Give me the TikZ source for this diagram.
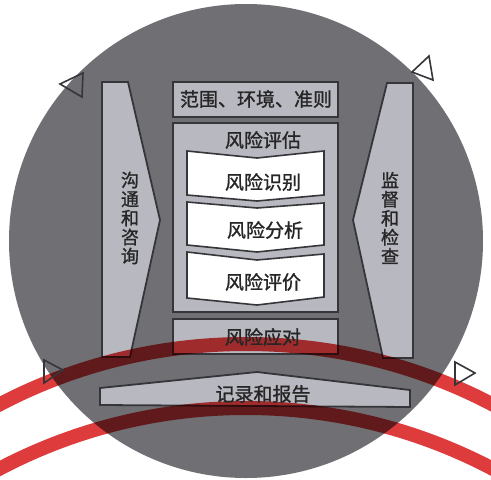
\documentclass[tikz,border=0pt]{standalone}
\usepackage{fontspec}
\newfontfamily\cjk[AutoFakeBold=1.2]{Noto Sans CJK SC}
\definecolor{circ}{HTML}{6F6F74}
\definecolor{lite}{HTML}{B8B8C0}
\definecolor{bdr}{HTML}{36363A}
\definecolor{txt}{HTML}{262626}
\definecolor{redc}{HTML}{DE3C3C}
\begin{document}
\begin{tikzpicture}[x=1pt,y=-1pt,
  box/.style={draw=bdr, line width=2.6pt, fill=lite},
  side/.style={draw=bdr, line width=1.8pt, fill=lite, line join=miter},
  chev/.style={draw=bdr, line width=1.6pt, fill=white, line join=miter},
  lbl/.style={font=\cjk\bfseries\fontsize{19}{19}\selectfont, text=txt, inner sep=0pt},
  vlbl/.style={font=\cjk\bfseries\fontsize{18}{19}\selectfont, text=txt, align=center, inner sep=0pt},
  tri/.style={draw=bdr, line width=1.6pt, line join=miter},
  band/.style={line width=14pt, draw=redc}]
\useasboundingbox (0,0) rectangle (491,480);
\clip (0,0) rectangle (491,480);
\fill[white] (0,0) rectangle (491,480);
\fill[circ] (246,241) circle[radius=237pt];
% side shapes
\draw[side] (102,82) -- (128,82) -- (160,220) -- (130,357) -- (102,357) -- cycle;
\draw[side] (413,83) -- (387,83) -- (353,220) -- (383,358) -- (413,358) -- cycle;
% central boxes
\draw[box] (173,82) rectangle (338,117);
\draw[box] (173,123) rectangle (338,312);
\draw[box] (173,319) rectangle (338,354);
% chevrons
\draw[chev] (187,151) -- (257,158) -- (324,151) -- (324,195) -- (257,201) -- (187,195) -- cycle;
\draw[chev] (187,202) -- (257,208) -- (324,203) -- (324,245) -- (257,252) -- (187,245) -- cycle;
\draw[chev] (187,252) -- (257,260) -- (324,254) -- (324,297) -- (257,305) -- (187,298) -- cycle;
% record bar
\draw[side] (100,388) -- (257,372) -- (410,390) -- (410,407) -- (100,405) -- cycle;
% red arcs
\begin{scope}[blend mode=multiply]
\draw[band] (246,876) circle[radius=532pt];
\draw[band] (246,938) circle[radius=530pt];
\end{scope}
% triangles
\draw[tri] (60,84) -- (83,73) -- (82,97) -- cycle;
\draw[tri] (429,56) -- (412,72) -- (433,80) -- cycle;
\draw[tri] (44,360) -- (44,383) -- (63,370) -- cycle;
\draw[tri] (455,362) -- (455,385) -- (475,373) -- cycle;
% labels
\node[lbl] (scope) at (256,99) {范围、环境、准则};
\node[lbl] (assess) at (263,140) {风险评估};
\node[lbl] (ident) at (263,182) {风险识别};
\node[lbl] (anal) at (265,230) {风险分析};
\node[lbl] (eval) at (263,282) {风险评价};
\node[lbl] (treat) at (263,337) {风险应对};
\node[lbl] (record) at (263,394) {记录和报告};
\node[vlbl] (comm) at (130,218) {沟\\通\\和\\咨\\询};
\node[vlbl] (mon) at (390,218) {监\\督\\和\\检\\查};
\end{tikzpicture}
\end{document}
